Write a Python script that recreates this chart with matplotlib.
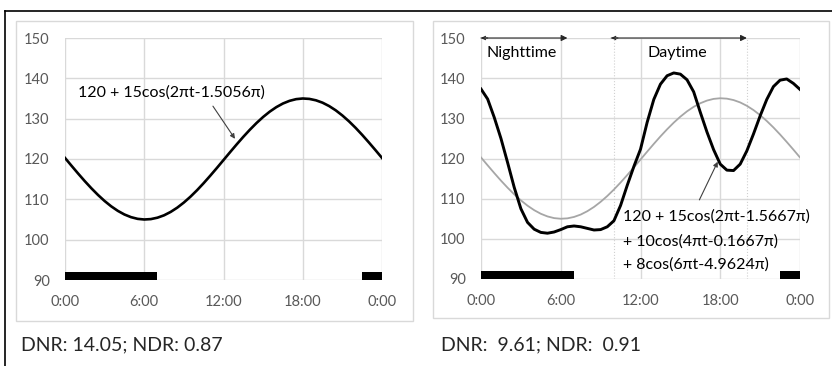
import numpy as np
import matplotlib.pyplot as plt
from matplotlib.patches import Rectangle
from matplotlib.lines import Line2D

plt.rcParams['font.family'] = ['Lato', 'DejaVu Sans']

# half-hour samples over one day (hours)
hours = np.arange(0, 24.5, 0.5)

# single cosinor curve (left panel, grey reference curve on the right)
bp_simple = [120.26, 118.30, 116.37, 114.50, 112.73, 111.08, 109.58, 108.26, 107.14, 106.24,
             105.58, 105.16, 105.00, 105.10, 105.45, 106.04, 106.88, 107.94, 109.21, 110.66,
             112.27, 114.02, 115.87, 117.78, 119.74, 121.70, 123.63, 125.50, 127.27, 128.92,
             130.42, 131.74, 132.86, 133.76, 134.42, 134.84, 135.00, 134.90, 134.55, 133.96,
             133.12, 132.06, 130.79, 129.34, 127.73, 125.98, 124.13, 122.22, 120.26]

# three-harmonic curve (right panel)
bp_multi = [137.3, 134.8, 130.2, 125.0, 119.0, 112.8, 107.5, 104.1, 102.4, 101.6,
            101.4, 101.7, 102.3, 103.0, 103.2, 103.0, 102.6, 102.2, 102.3, 103.0,
            104.5, 108.3, 113.3, 118.0, 122.3, 129.0, 134.7, 138.5, 140.6, 141.3,
            141.0, 139.6, 136.6, 131.5, 126.6, 122.2, 118.6, 117.1, 117.0, 118.6,
            121.9, 126.1, 130.6, 134.7, 137.9, 139.5, 139.8, 138.7, 137.2]

# sleep period (hours) shown as black bars
sleep_periods = [(0, 7), (22.5, 1.5)]

xticks = [0, 6, 12, 18, 24]
xlabels = ['0:00', '6:00', '12:00', '18:00', '0:00']
yticks = [90, 100, 110, 120, 130, 140, 150]

eq_left = '120 + 15cos(2πt-1.5056π)'
eq_right = ['120 + 15cos(2πt-1.5667π)', '+ 10cos(4πt-0.1667π)', '+ 8cos(6πt-4.9624π)']
captions = ['DNR: 14.05; NDR: 0.87', 'DNR:  9.61; NDR:  0.91']

W, H = 832, 366
fig = plt.figure(figsize=(W / 100, H / 100), dpi=100)


def box(x0, y0, x1, y1):
    return [x0 / W, 1 - y1 / H, (x1 - x0) / W, (y1 - y0) / H]


# outer frame (left and top edges)
fig.add_artist(Line2D([5 / W, 5 / W], [0, 1 - 10.5 / H], color='black', lw=1.2))
fig.add_artist(Line2D([5 / W, 1], [1 - 10.5 / H, 1 - 10.5 / H], color='black', lw=1.2))

# light chart-area frames
for b in [box(16, 21, 413, 321), box(433, 21, 829, 318)]:
    fig.add_artist(Rectangle((b[0], b[1]), b[2], b[3], transform=fig.transFigure,
                             fill=False, ec='#d9d9d9', lw=1))

ax1 = fig.add_axes(box(65, 38, 382, 280))
ax2 = fig.add_axes(box(481, 38, 800, 279))

for ax in (ax1, ax2):
    ax.set_xlim(0, 24)
    ax.set_ylim(90, 150)
    ax.set_xticks(xticks)
    ax.set_xticklabels(xlabels)
    ax.set_yticks(yticks)
    ax.grid(True, color='#d9d9d9', lw=1)
    ax.set_axisbelow(True)
    for s in ax.spines.values():
        s.set_visible(False)
    ax.tick_params(axis='both', length=0, labelsize=10.5, labelcolor='#595959')
    ax.tick_params(axis='y', pad=11)
    ax.tick_params(axis='x', pad=11)
    ax.broken_barh(sleep_periods, (90, 2), facecolor='black', clip_on=False, zorder=3)

# left panel
ax1.plot(hours, bp_simple, color='black', lw=1.9, zorder=4, solid_joinstyle='round')
ax1.text(0.98, 136.4, eq_left, fontsize=11.5, color='black', ha='left', va='center')
ax1.annotate('', xy=(12.87, 125.0), xytext=(11.2, 133.1),
             arrowprops=dict(arrowstyle='-|>', color='#404040', lw=0.8, mutation_scale=7,
                             shrinkA=0, shrinkB=0))

# right panel
for h in [10, 20]:
    ax2.axvline(h, color='#d0d0d0', lw=0.8, ls=':', zorder=1)
ax2.plot(hours, bp_simple, color='#a6a6a6', lw=1.3, zorder=4)
ax2.plot(hours, bp_multi, color='black', lw=2.1, zorder=5, solid_joinstyle='round')
for i, line in enumerate(eq_right):
    ax2.text(10.71, [105.5, 99.2, 93.55][i], line, fontsize=11.5, color='black',
             ha='left', va='center', zorder=6)
ax2.annotate('', xy=(17.81, 119.2), xytext=(16.43, 109.7),
             arrowprops=dict(arrowstyle='-|>', color='#404040', lw=0.8, mutation_scale=7,
                             shrinkA=0, shrinkB=0))

# nighttime / daytime arrows
for start, end, label, cx in [(0, 6.5, 'Nighttime', 3.06), (9.8, 20.0, 'Daytime', 14.8)]:
    ax2.annotate('', xy=(end, 150), xytext=(start, 150), annotation_clip=False,
                 arrowprops=dict(arrowstyle='-|>', color='#262626', lw=0.8,
                                 mutation_scale=9, shrinkA=0, shrinkB=0))
    ax2.annotate('', xy=(start, 150), xytext=(start + 0.5, 150), annotation_clip=False,
                 arrowprops=dict(arrowstyle='->', color='#262626', lw=0.8,
                                 mutation_scale=6, shrinkA=0, shrinkB=0))
    ax2.text(cx, 146.3, label, fontsize=11.5, color='black', ha='center', va='center')

fig.text(21 / W, 1 - 345 / H, captions[0], fontsize=14, color='#262626', ha='left', va='center')
fig.text(441 / W, 1 - 345 / H, captions[1], fontsize=14, color='#262626', ha='left', va='center')

fig.savefig('out.png', dpi=100)
